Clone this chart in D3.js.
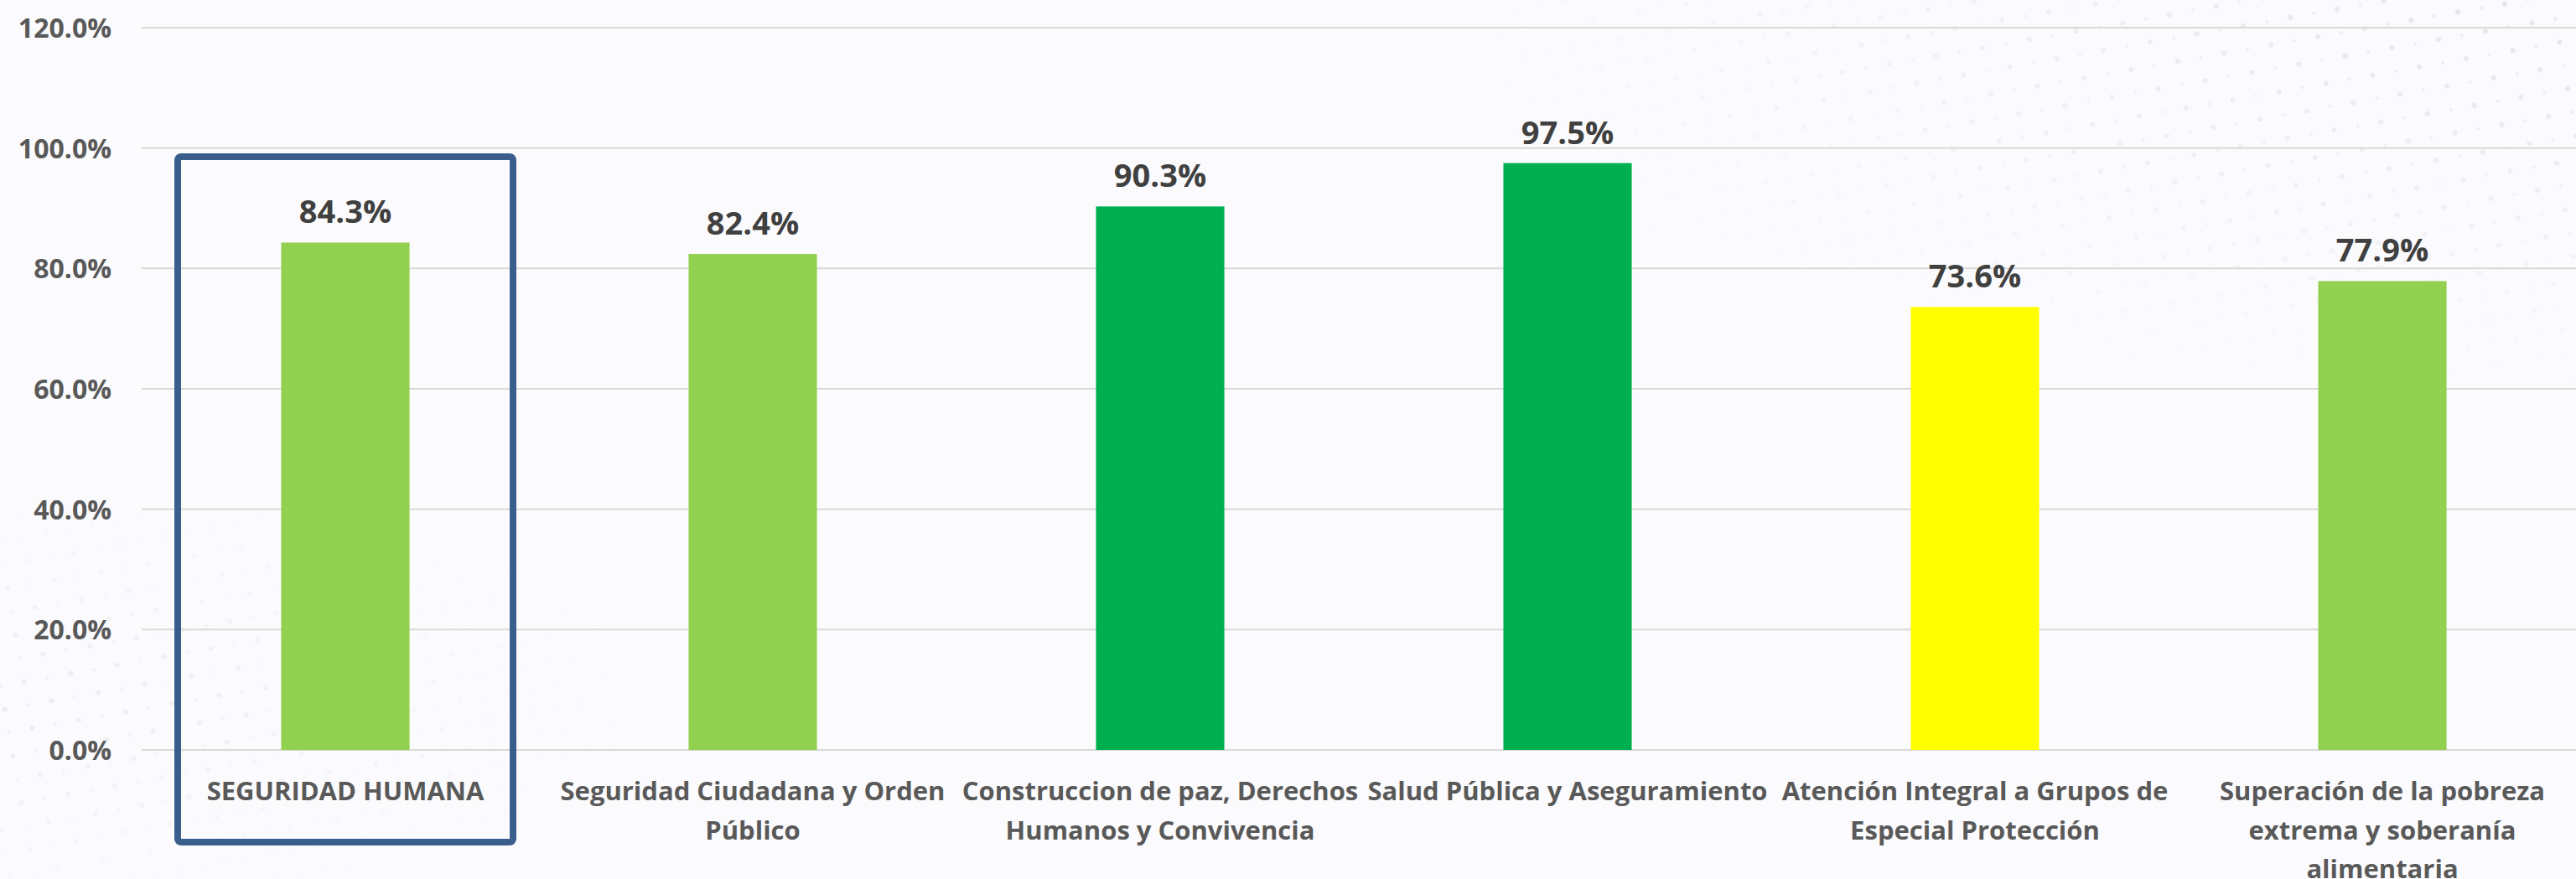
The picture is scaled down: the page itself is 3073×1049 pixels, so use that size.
<!DOCTYPE html>
<html>
<head>
<meta charset="utf-8">
<script src="https://cdn.jsdelivr.net/npm/d3@7"></script>
<style>
  html, body { margin: 0; padding: 0; background: #fbfbfd; }
  svg { display: block; }
  .tick-label { font-family: "Open Sans", Lato, sans-serif; font-weight: bold; fill: #595959; }
  .cat-label { font-family: "Open Sans", Lato, sans-serif; font-weight: bold; fill: #595959; }
  .value-label { font-family: "Open Sans", Lato, sans-serif; font-weight: bold; fill: #404040; }
</style>
</head>
<body>
<div id="chart"></div>
<script>
// chart data
var categories = [
  "SEGURIDAD HUMANA",
  "Seguridad Ciudadana y Orden Público",
  "Construccion de paz, Derechos Humanos y Convivencia",
  "Salud Pública y Aseguramiento",
  "Atención Integral a Grupos de Especial Protección",
  "Superación de la pobreza extrema y soberanía alimentaria"
];
// wrapped the same way as the picture
var categoryLines = [
  ["SEGURIDAD HUMANA"],
  ["Seguridad Ciudadana y Orden", "Público"],
  ["Construccion de paz, Derechos", "Humanos y Convivencia"],
  ["Salud Pública y Aseguramiento"],
  ["Atención Integral a Grupos de", "Especial Protección"],
  ["Superación de la pobreza", "extrema y soberanía", "alimentaria"]
];
var values = [84.3, 82.4, 90.3, 97.5, 73.6, 77.9];
var barColors = ["#92D050", "#92D050", "#00B050", "#00B050", "#FFFF00", "#92D050"];
var yTicks = [0, 20, 40, 60, 80, 100, 120];
var highlighted = "SEGURIDAD HUMANA";

var width = 3073, height = 1049;
var margin = { top: 33, left: 169, right: -12, bottom: 154 };

var svg = d3.select("#chart").append("svg")
    .attr("width", width)
    .attr("height", height);

// faint dotted texture like the slide background
var defs = svg.append("defs");
var pat = defs.append("pattern")
    .attr("id", "dots")
    .attr("width", 40).attr("height", 40)
    .attr("patternUnits", "userSpaceOnUse")
    .attr("patternTransform", "rotate(35)");
pat.append("circle").attr("cx", 10).attr("cy", 10).attr("r", 3).attr("fill", "#c8c8d0");
pat.append("circle").attr("cx", 30).attr("cy", 30).attr("r", 2).attr("fill", "#d4d4dc");
var grad = defs.append("radialGradient").attr("id", "fadeTR")
    .attr("cx", "100%").attr("cy", "0%").attr("r", "45%");
grad.append("stop").attr("offset", "0%").attr("stop-color", "white").attr("stop-opacity", 0.9);
grad.append("stop").attr("offset", "100%").attr("stop-color", "white").attr("stop-opacity", 0);
var grad2 = defs.append("radialGradient").attr("id", "fadeBL")
    .attr("cx", "0%").attr("cy", "80%").attr("r", "25%");
grad2.append("stop").attr("offset", "0%").attr("stop-color", "white").attr("stop-opacity", 0.6);
grad2.append("stop").attr("offset", "100%").attr("stop-color", "white").attr("stop-opacity", 0);
var mask = defs.append("mask").attr("id", "texMask");
mask.append("rect").attr("width", width).attr("height", height).attr("fill", "url(#fadeTR)");
mask.append("rect").attr("width", width).attr("height", height).attr("fill", "url(#fadeBL)");

svg.append("rect").attr("width", width).attr("height", height).attr("fill", "#fbfbfd");
svg.append("rect").attr("width", width).attr("height", height)
    .attr("fill", "url(#dots)").attr("mask", "url(#texMask)").attr("opacity", 0.5);

// scales
var x0 = margin.left, x1 = width - margin.right;
var xScale = d3.scaleBand()
    .domain(categories)
    .range([x0, x1])
    .paddingInner(0.685)
    .paddingOuter(0.3425);
// 0% sits at y=895, 120% at y=33
var yScale = d3.scaleLinear()
    .domain([0, 120])
    .range([895, margin.top]);

// gridlines
svg.append("g").attr("class", "grid")
  .selectAll("line")
  .data(yTicks)
  .enter().append("line")
    .attr("x1", x0).attr("x2", width)
    .attr("y1", function (d) { return yScale(d); })
    .attr("y2", function (d) { return yScale(d); })
    .attr("stroke", "#d9d9d9")
    .attr("stroke-width", 2);

// y axis labels
var yAxis = svg.append("g")
    .attr("transform", "translate(" + (x0 - 36) + ",0)")
    .call(d3.axisLeft(yScale).tickValues(yTicks).tickSize(0).tickPadding(0)
      .tickFormat(function (d) { return d3.format(".1f")(d) + "%"; }));
yAxis.select(".domain").remove();
yAxis.selectAll("text")
    .attr("class", "tick-label")
    .attr("font-size", 32)
    .attr("dy", "0.36em")
    .attr("fill", null);

// bars
svg.append("g").attr("class", "bars")
  .selectAll(".bar")
  .data(values)
  .enter().append("rect")
    .attr("class", "bar")
    .attr("x", function (d, i) { return xScale(categories[i]); })
    .attr("y", function (d) { return yScale(d); })
    .attr("width", xScale.bandwidth())
    .attr("height", function (d) { return yScale(0) - yScale(d); })
    .attr("fill", function (d, i) { return barColors[i]; });

// value labels
svg.append("g")
  .selectAll("text")
  .data(values)
  .enter().append("text")
    .attr("class", "value-label")
    .attr("font-size", 38)
    .attr("text-anchor", "middle")
    .attr("x", function (d, i) { return xScale(categories[i]) + xScale.bandwidth() / 2; })
    .attr("y", function (d) { return yScale(d) - 23; })
    .text(function (d) { return d3.format(".1f")(d) + "%"; });

// category labels
var cats = svg.append("g")
  .selectAll("text")
  .data(categories)
  .enter().append("text")
    .attr("class", "cat-label")
    .attr("font-size", 31)
    .attr("text-anchor", "middle")
    .attr("x", function (d) { return xScale(d) + xScale.bandwidth() / 2; })
    .attr("y", yScale(0) + 60);
cats.selectAll("tspan")
  .data(function (d, i) { return categoryLines[i]; })
  .enter().append("tspan")
    .attr("x", function () { return d3.select(this.parentNode).attr("x"); })
    .attr("dy", function (d, i) { return i === 0 ? 0 : 46.5; })
    .text(function (d) { return d; });

// highlight box round the first category
var hx = xScale(highlighted) + xScale.bandwidth() / 2;
svg.append("rect")
    .attr("x", hx - 200)
    .attr("y", 187)
    .attr("width", 400)
    .attr("height", 1005 - 187)
    .attr("rx", 4)
    .attr("fill", "none")
    .attr("stroke", "#3A5E8C")
    .attr("stroke-width", 8);
</script>
</body>
</html>
